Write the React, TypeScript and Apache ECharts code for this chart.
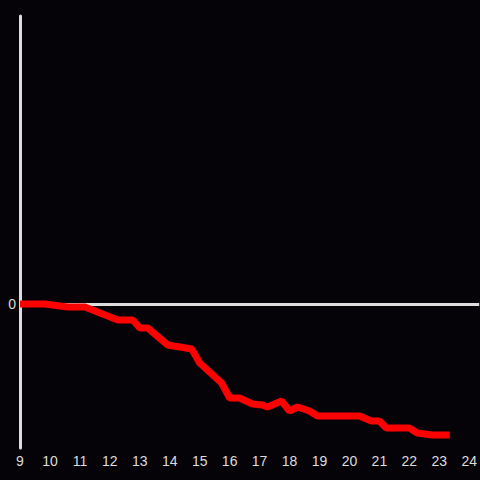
import React, { useEffect, useRef } from "react";
import * as echarts from "echarts";

const hours: number[] = [
  9, 9.833, 10.6, 11.167, 12.267, 12.767, 13, 13.267, 13.933, 14.733, 15, 15.733,
  16, 16.333, 16.767, 17.1, 17.267, 17.733, 18, 18.267, 18.667, 18.933, 20.333,
  20.733, 21, 21.233, 22, 22.267, 22.767, 23.35,
];
const values: number[] = [
  0, 0, -3, -3, -16, -16, -24, -24, -41, -45, -59, -79, -94, -94, -100, -101, -103,
  -97, -107, -103, -107, -112, -112, -117, -117, -124, -124, -129, -131, -131,
];
const yTickLabels: string[] = ["0"];

export default function App() {
  const ref = useRef<HTMLDivElement>(null);
  useEffect(() => {
    if (!ref.current) return;
    document.body.style.margin = "0";
    document.body.style.overflow = "hidden";
    const chart = echarts.init(ref.current, undefined, { renderer: "svg" });
    const data = hours.map((h, i) => [h, values[i]]);
    chart.setOption({
      animation: false,
      backgroundColor: "#050307",
      textStyle: { fontFamily: "Liberation Sans" },
      grid: { left: 20, right: 0, top: 16, bottom: 32, containLabel: false },
      xAxis: {
        type: "value",
        min: 9,
        max: 24 + 1 / 3,
        interval: 1,
        axisLine: { show: false },
        axisTick: { show: false },
        splitLine: { show: false },
        axisLabel: {
          color: "#dddddd",
          fontSize: 14,
          fontFamily: "Liberation Sans",
          margin: 6,
          showMaxLabel: false,
          formatter: (v: number) => (Number.isInteger(v) ? String(v) : ""),
        },
      },
      yAxis: {
        type: "value",
        min: -144,
        max: 288,
        interval: 144,
        axisLine: { show: true, onZero: false, lineStyle: { color: "#dddddd", width: 3 } },
        axisTick: { show: false },
        splitLine: { show: false },
        axisLabel: {
          color: "#dddddd",
          fontSize: 14,
          fontFamily: "Liberation Sans",
          margin: 4,
          formatter: (v: number) => (v === 0 ? yTickLabels[0] : ""),
        },
      },
      series: [
        {
          type: "line",
          data,
          showSymbol: false,
          symbol: "none",
          lineStyle: { color: "#ff0000", width: 7 },
          z: 3,
          markLine: {
            silent: true,
            symbol: "none",
            label: { show: false },
            lineStyle: { color: "#dddddd", width: 3, type: "solid" },
            data: [{ yAxis: 0 }],
            z: 2,
          },
        },
      ],
    });
    return () => chart.dispose();
  }, []);
  return <div ref={ref} style={{ width: 480, height: 480 }} />;
}
